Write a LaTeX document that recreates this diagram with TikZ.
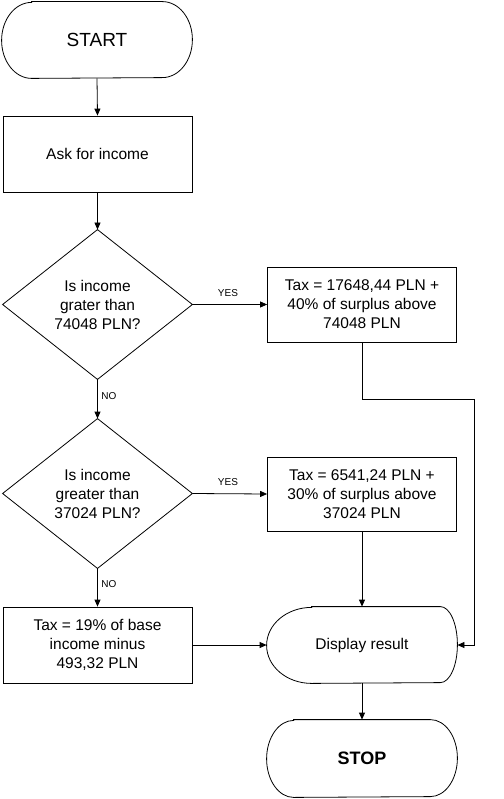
\documentclass[tikz,border=0pt]{standalone}
\usepackage{fontspec}
\setmainfont{Liberation Sans}
\usetikzlibrary{arrows.meta,calc}
\begin{document}
\begin{tikzpicture}[x=1pt,y=1pt,
 line width=0.8pt,
 txt/.style={font=\fontsize{15.5}{19}\selectfont, align=center},
 boxnode/.style={draw, rectangle, minimum width=189pt, minimum height=75pt, inner sep=0pt, txt},
 plainnode/.style={rectangle, inner sep=0pt, txt},
 arr/.style={-{Triangle[length=7pt,width=6pt]}},
 lbl/.style={font=\fontsize{10}{12}\selectfont, inner sep=0pt}]
\useasboundingbox (0,0) rectangle (503,-799);
% START
\node[plainnode, minimum width=190pt, minimum height=76pt, font=\fontsize{19}{21}\selectfont] (start) at (97,-40) {START};
\draw ($(start.north west)+(30,0)$) -- ($(start.north east)+(-30,0)$)
  arc[start angle=90,end angle=-90,x radius=30,y radius=38]
  -- ($(start.south west)+(30,0)$)
  arc[start angle=270,end angle=90,x radius=30,y radius=38] -- cycle;
% Ask
\node[boxnode, minimum height=76pt] (ask) at (97.5,-154) {Ask for income};
% Decision 1
\node[plainnode, minimum width=189pt, minimum height=149pt] (d1) at (97.5,-304.5) {Is income\\grater than\\74048 PLN?};
\draw (d1.north) -- (d1.east) -- (d1.south) -- (d1.west) -- cycle;
\node[boxnode] (t1) at (362,-304.5) {Tax = 17648,44 PLN +\\40\% of surplus above\\74048 PLN};
% Decision 2
\node[plainnode, minimum width=189pt, minimum height=149pt] (d2) at (97.5,-493.5) {Is income\\greater than\\37024 PLN?};
\draw (d2.north) -- (d2.east) -- (d2.south) -- (d2.west) -- cycle;
\node[boxnode, minimum height=74pt] (t2) at (362,-494) {Tax = 6541,24 PLN +\\30\% of surplus above\\37024 PLN};
% Tax 19
\node[boxnode, minimum height=76pt] (t3) at (97.5,-645) {Tax = 19\% of base\\income minus\\493,32 PLN};
% Display
\node[plainnode, minimum width=190pt, minimum height=76pt] (disp) at (362,-645) {Display result};
\draw ($(disp.north west)+(45,0)$) -- ($(disp.north east)+(-17,0)$)
  arc[start angle=90,end angle=-90,x radius=17,y radius=38]
  -- ($(disp.south west)+(45,0)$)
  arc[start angle=270,end angle=90,x radius=45,y radius=38] -- cycle;
% STOP
\node[plainnode, minimum width=190pt, minimum height=77pt, font=\fontsize{18}{20}\selectfont\bfseries] (stop) at (362,-758.5) {STOP};
\draw ($(stop.north west)+(27,0)$) -- ($(stop.north east)+(-27,0)$)
  arc[start angle=90,end angle=-90,x radius=27,y radius=38.5]
  -- ($(stop.south west)+(27,0)$)
  arc[start angle=270,end angle=90,x radius=27,y radius=38.5] -- cycle;
% labels
\node[lbl] (yes1) at (228,-293) {YES};
\node[lbl] (yes2) at (228,-482) {YES};
\node[lbl, anchor=west] (no1) at (101,-396) {NO};
\node[lbl, anchor=west] (no2) at (101,-584) {NO};
% connectors
\coordinate (c1) at (474,-399);
\coordinate (c2) at (474,-645);
\draw[arr] (start.south) -- (ask.north);
\draw[arr] (ask.south) -- (d1.north);
\draw[arr] (d1.east) -- (t1.west);
\draw[arr] (d1.south) -- (d2.north);
\draw[arr] (t1.south) |- (c1) -- (c2) -- (disp.east);
\draw[arr] (d2.east) -- (t2.west);
\draw[arr] (t2.south) -- (disp.north);
\draw[arr] (d2.south) -- (t3.north);
\draw[arr] (t3.east) -- (disp.west);
\draw[arr] (disp.south) -- (stop.north);
\end{tikzpicture}
\end{document}
